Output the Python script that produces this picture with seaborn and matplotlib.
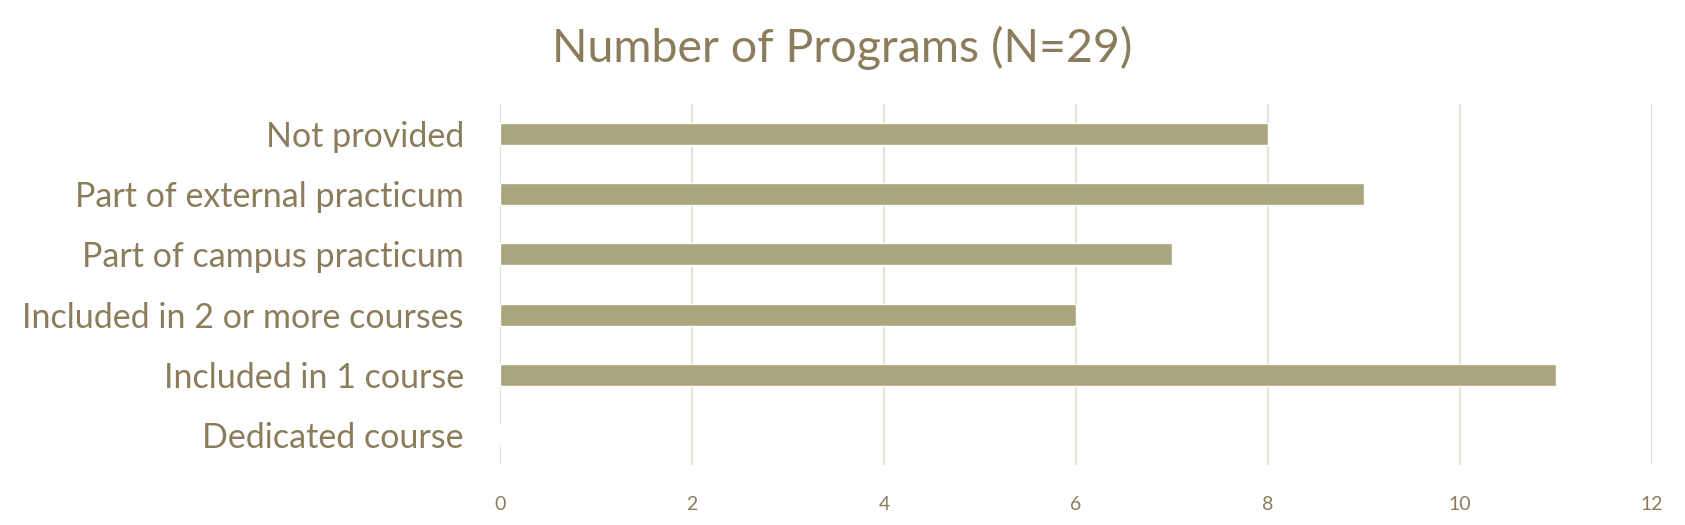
import matplotlib
matplotlib.use("Agg")
import matplotlib.pyplot as plt
import seaborn as sns
import pandas as pd

categories = ["Not provided", "Part of external practicum", "Part of campus practicum",
              "Included in 2 or more courses", "Included in 1 course", "Dedicated course"]
values = [8, 9, 7, 6, 11, 0]
xticks = [0, 2, 4, 6, 8, 10, 12]

TEXT = "#8B7D5B"
BAR = "#A9A57C"
GRID = "#E4E1D6"

sns.set_theme(style="white")
plt.rcParams['font.family'] = ['Lato', 'DejaVu Sans']

df = pd.DataFrame({"category": categories, "value": values})

fig = plt.figure(figsize=(16.85, 5.25), dpi=100)
ax = fig.add_axes([0.2967, 0.1143, 0.6837, 0.6877])
sns.barplot(data=df, y="category", x="value", order=categories, color=BAR,
            width=0.366, saturation=1, ax=ax, zorder=3)

ax.set_xlim(0, 12)
ax.set_xticks(xticks)
ax.set_xticklabels([str(t) for t in xticks])
ax.xaxis.grid(True, color=GRID, linewidth=1.5, zorder=0)
ax.yaxis.grid(False)
for s in ax.spines.values():
    s.set_visible(False)
ax.set_xlabel("")
ax.set_ylabel("")
ax.tick_params(axis="x", length=0, pad=22, labelsize=14, labelcolor=TEXT)
ax.tick_params(axis="y", length=0, pad=26, labelsize=24.5, labelcolor=TEXT)
fig.suptitle("Number of Programs (N=29)", x=0.5, y=0.95, fontsize=33.5, color=TEXT)

fig.savefig("out.png", dpi=100)
